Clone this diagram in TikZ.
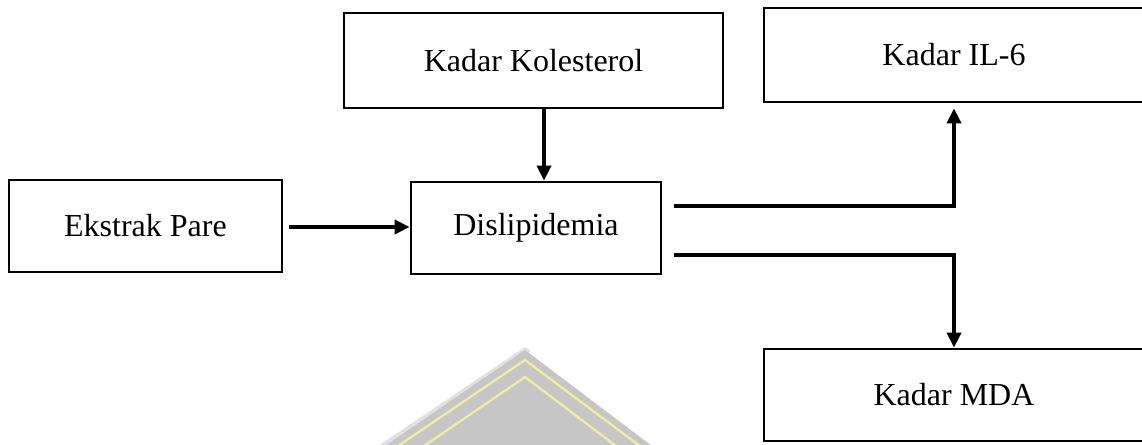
\documentclass[tikz,border=0pt]{standalone}
\usepackage{fontspec}
\setmainfont{Liberation Serif}
\usetikzlibrary{arrows.meta}
\definecolor{wmgray}{RGB}{198,198,198}
\definecolor{wmlight}{RGB}{225,225,225}
\definecolor{wmyellow}{RGB}{240,238,160}
\begin{document}
\begin{tikzpicture}[x=1pt,y=-1pt,
  box/.style={draw=black,line width=2.8pt,inner sep=0pt,rectangle,
    font=\fontsize{32}{36}\selectfont},
  conn/.style={line width=4pt,-{Triangle[length=15pt,width=14pt]}},
  wmline/.style={draw=wmyellow,line width=2.2pt},
]
\useasboundingbox (0,0) rectangle (1142,444);
\clip (0,0) rectangle (1142,444);
% watermark (partial logo)
\fill[wmlight] (378,446) -- (525,347) -- (531,351) -- (388,446) -- cycle;
\fill[wmgray] (385,446) -- (525,350) -- (652,446) -- cycle;
\draw[wmline] (398,446) -- (525,360) -- (640,446);
\draw[wmline] (424,446) -- (525,377) -- (616,446);
% boxes
\node[box,minimum width=273pt,minimum height=92pt] (ek) at (145.5,226) {Ekstrak Pare};
\node[box,minimum width=379pt,minimum height=95pt] (kol) at (533.5,60.5) {Kadar Kolesterol};
\node[box,minimum width=250pt,minimum height=92pt] (dis) at (536,228) {Dislipidemia};
\node[box,minimum width=380pt,minimum height=94pt] (il) at (954,55) {Kadar IL-6};
\node[box,minimum width=380pt,minimum height=92pt] (mda) at (954,395) {Kadar MDA};
% connectors
\draw[conn] ([xshift=6pt,yshift=-1pt]ek.east) -- (dis.west |- 0,227);
\draw[conn] ([xshift=10.5pt]kol.south) -- ([xshift=8pt]dis.north);
\draw[conn] ([xshift=12pt,yshift=22pt]dis.east) -| ([yshift=-5pt]il.south);
\draw[conn] ([xshift=12pt,yshift=-27pt]dis.east) -| (mda.north);
\end{tikzpicture}
\end{document}
